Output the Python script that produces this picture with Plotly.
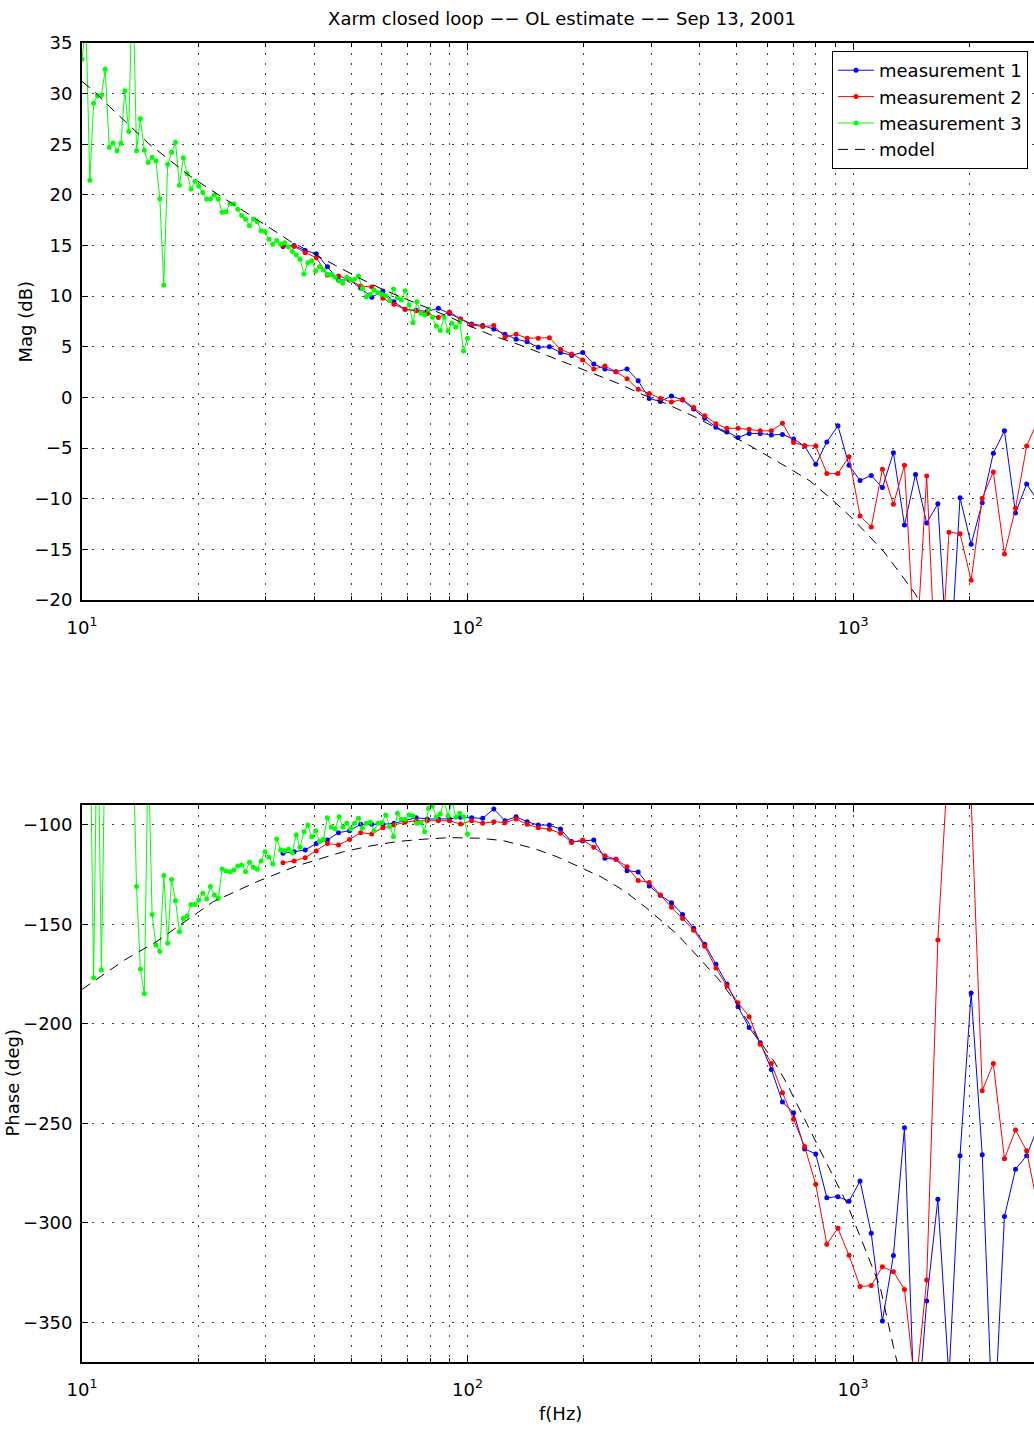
import plotly.graph_objects as go

# ---- measurements 1 & 2 (swept sine, shared frequency grid) ----
FREQ_12 = [33.22, 35.49, 37.93, 40.53, 43.31, 46.28, 49.44, 52.83, 56.45, 60.32,
           64.45, 68.87, 73.59, 78.63, 84.02, 89.78, 95.94, 102.5, 109.5, 117.0,
           125.1, 133.7, 142.8, 152.6, 163.1, 174.3, 186.2, 199.0, 212.6, 227.2,
           242.7, 259.4, 277.2, 296.1, 316.4, 338.1, 361.3, 386.0, 412.5, 440.8,
           471.0, 503.3, 537.8, 574.6, 614.0, 656.1, 701.0, 749.1, 800.4, 855.3,
           913.9, 976.5, 1043, 1115, 1192, 1273, 1360, 1453, 1553, 1660,
           1774, 1895, 2025, 2164, 2312, 2471, 2640, 2821, 3014]

MAG_1 = [14.9, 15.0, 14.5, 14.2, 12.9, 11.6, 11.6, 10.8, 9.9, 10.5,
         9.45, 8.7, 8.6, 8.5, 8.8, 8.3, 7.75, 7.25, 7.1, 6.75,
         6.25, 5.75, 5.5, 4.95, 5.0, 4.45, 4.15, 4.45, 3.3, 2.8,
         2.55, 2.8, 1.65, -0.1, -0.4, 0.15, -0.25, -1.15, -2.05, -2.95,
         -3.4, -3.95, -3.55, -3.55, -3.7, -3.65, -4.1, -4.8, -6.6, -4.4,
         -2.8, -6.7, -8.2, -7.7, -8.9, -5.45, -12.6, -7.6, -12.4, -10.5,
         -28.6, -9.9, -14.5, -10.4, -5.5, -3.3, -11.4, -8.55, -10.2]

MAG_2 = [15.0, 14.9, 14.3, 13.8, 12.1, 12.0, 11.6, 11.0, 10.9, 9.8,
         9.2, 8.7, 8.55, 8.3, 7.9, 8.45, 7.75, 7.15, 7.0, 7.1,
         5.95, 6.25, 5.85, 5.85, 5.9, 4.75, 4.3, 3.7, 2.8, 3.1,
         2.55, 1.85, 0.8, 0.4, -0.1, -0.45, -0.2, -1.0, -1.8, -2.6,
         -3.05, -3.05, -3.15, -3.3, -3.3, -2.55, -4.45, -4.75, -4.8, -7.5,
         -7.5, -5.85, -11.7, -12.8, -7.1, -10.55, -6.7, -26.5, -7.75, -32.0,
         -13.3, -13.45, -18.05, -9.95, -7.35, -15.45, -10.95, -4.8, -2.3]

PHASE_1 = [-114.3, -113.5, -112.6, -109.3, -107.6, -103.9, -102.9, -99.7, -99.7, -99.7,
           -99.2, -97.9, -96.4, -97.0, -97.0, -97.0, -96.2, -96.4, -96.7, -92.0,
           -97.9, -95.9, -98.4, -100.1, -100.1, -102.1, -108.4, -108.1, -107.6, -116.8,
           -117.3, -123.0, -123.7, -130.7, -135.4, -139.1, -145.0, -152.0, -160.0, -170.0,
           -180.0, -191.4, -201.9, -209.5, -222.9, -239.3, -244.7, -262.9, -265.4, -287.4,
           -286.9, -289.2, -279.0, -305.3, -349.4, -316.5, -252.2, -412.0, -339.3, -288.2,
           -378.0, -266.3, -184.5, -265.8, -412.0, -296.9, -273.1, -266.3, -252.0]

PHASE_2 = [-119.0, -118.1, -116.5, -113.1, -109.3, -110.1, -107.3, -103.9, -104.6, -101.4,
           -100.1, -98.7, -97.9, -97.9, -97.9, -97.9, -99.6, -97.9, -99.2, -98.4,
           -98.9, -97.0, -99.7, -101.4, -102.2, -104.2, -108.8, -107.6, -111.3, -115.5,
           -117.3, -121.0, -128.0, -128.9, -135.2, -141.4, -147.0, -153.0, -161.0, -172.0,
           -181.0, -189.4, -196.4, -210.3, -219.9, -234.6, -248.0, -261.7, -280.7, -310.8,
           -302.8, -316.4, -332.1, -331.6, -322.1, -324.6, -333.5, -384.0, -328.8, -157.9,
           -60.0, -45.0, -87.0, -233.6, -219.9, -267.8, -253.4, -263.8, -292.0]

# ---- measurement 3 (low-frequency sweep) ----
FREQ_3 = [10.00, 10.24, 10.48, 10.72, 10.97, 11.23, 11.49, 11.77, 12.04, 12.33,
          12.62, 12.91, 13.22, 13.53, 13.85, 14.17, 14.51, 14.85, 15.20, 15.55,
          15.92, 16.30, 16.68, 17.07, 17.48, 17.89, 18.31, 18.74, 19.18, 19.63,
          20.09, 20.57, 21.05, 21.54, 22.05, 22.57, 23.10, 23.65, 24.20, 24.77,
          25.35, 25.95, 26.56, 27.19, 27.83, 28.48, 29.15, 29.84, 30.54, 31.26,
          31.99, 32.75, 33.52, 34.30, 35.11, 35.94, 36.78, 37.65, 38.53, 39.44,
          40.37, 41.32, 42.29, 43.29, 44.31, 45.35, 46.42, 47.51, 48.63, 49.77,
          50.94, 52.14, 53.37, 54.62, 55.91, 57.22, 58.57, 59.95, 61.36, 62.80,
          64.28, 65.79, 67.34, 68.92, 70.55, 72.21, 73.91, 75.65, 77.43, 79.25,
          81.11, 83.02, 84.98, 86.98, 89.02, 91.12, 93.26, 95.45, 97.70, 100.00]

MAG_3 = [33.39, 37.0, 21.44, 29.04, 29.8, 29.85, 32.4, 24.67, 25.13, 24.37,
         25.1, 30.28, 26.25, 42.0, 24.37, 27.53, 24.4, 23.19, 23.71, 23.38,
         19.63, 11.1, 23.02, 24.2, 25.2, 20.96, 23.68, 22.1, 20.58, 21.34,
         20.85, 20.27, 19.6, 19.6, 19.99, 19.6, 18.28, 18.34, 19.13, 19.1,
         18.58, 17.96, 17.59, 16.96, 17.63, 17.36, 16.46, 16.38, 15.63, 15.12,
         15.5, 15.15, 15.28, 14.89, 14.4, 14.07, 13.64, 12.19, 13.31, 13.51,
         12.49, 12.91, 12.59, 12.16, 12.09, 11.86, 11.5, 11.27, 11.86, 11.6,
         11.66, 11.99, 10.77, 9.95, 10.18, 10.61, 10.35, 10.18, 10.05, 9.56,
         10.71, 9.85, 9.62, 10.54, 9.13, 7.38, 9.46, 8.31, 8.14, 8.7,
         7.91, 7.05, 6.6, 7.91, 6.56, 7.32, 6.92, 7.48, 4.59, 5.84]

PHASE_3 = [-60.0, -60.0, -40.0, -176.8, -30.0, -173.0, -50.0, -60.0, -60.0, -60.0,
           -60.0, -60.0, -60.0, -51.0, -131.0, -172.4, -184.7, -60.0, -145.0, -160.4,
           -163.7, -125.5, -159.5, -127.4, -138.1, -153.7, -147.0, -145.8, -140.0, -140.0,
           -137.8, -134.4, -137.2, -131.0, -135.2, -136.9, -122.2, -123.2, -123.5, -122.7,
           -120.7, -120.2, -123.5, -118.8, -121.3, -122.3, -118.1, -113.5, -116.3, -119.7,
           -107.1, -112.6, -113.1, -112.3, -114.0, -105.1, -111.3, -103.4, -100.1, -105.9,
           -102.9, -108.4, -107.3, -96.4, -101.2, -102.1, -95.9, -101.2, -99.2, -102.1,
           -99.2, -96.7, -101.7, -99.2, -98.7, -102.9, -99.2, -98.9, -95.0, -100.9,
           -105.9, -94.2, -97.2, -97.2, -95.0, -95.4, -99.2, -98.9, -103.4, -91.7,
           -90.5, -95.9, -94.5, -88.0, -95.5, -88.0, -96.2, -94.2, -95.9, -104.6]

# ---- open-loop model ----
MODEL_MAG_FREQ = [10.0, 10.7, 11.8, 14.86, 18.88, 21.27, 31.3, 34.6, 45.5, 52.3,
                  60.0, 69.3, 79.4, 91.0, 97.5, 115, 137.8, 158.6, 183, 210,
                  244, 286, 324, 384, 520, 686.5, 773, 877, 981, 1094,
                  1203, 1333, 1456, 1600]
MODEL_MAG = [31.2, 30.3, 28.7, 25.1, 21.97, 20.66, 16.54, 15.45, 13.03, 11.8,
             10.7, 9.73, 8.84, 7.85, 7.33, 6.17, 5.14, 4.2, 3.31, 2.42,
             1.44, 0.25, -0.54, -1.82, -4.4, -7.05, -8.24, -10.0, -11.7, -13.57,
             -15.25, -17.5, -19.5, -22.5]

MODEL_PHASE_FREQ = [10.0, 12.9, 15.6, 21.9, 28.4, 36.0, 42.2, 47.6, 55.9, 65.5,
                    76.7, 90.0, 107.6, 123.7, 148.5, 170.5, 196, 223, 257, 289.6,
                    350, 400, 450, 499, 574, 621, 673, 758, 855, 964,
                    1065, 1176, 1273, 1320]
MODEL_PHASE = [-182.7, -167.9, -158.7, -138.6, -128.6, -120.7, -116.6, -113.5, -110.6, -108.4,
               -107.2, -106.4, -106.7, -107.9, -111.8, -116.0, -121.3, -126.3, -133.6, -141.4,
               -155.0, -167.0, -178.0, -189.7, -209.0, -218.2, -229.9, -250.0, -270.1, -290.3,
               -311.2, -332.2, -362.3, -375.0]

MAG_TICKS = [-20, -15, -10, -5, 0, 5, 10, 15, 20, 25, 30, 35]
PHASE_TICKS = [-350, -300, -250, -200, -150, -100]
FREQ_TICKS = [10, 100, 1000]
FREQ_TICK_TEXT = ["10<sup>1</sup>", "10<sup>2</sup>", "10<sup>3</sup>"]

TITLE = "Xarm closed loop −− OL estimate −− Sep 13, 2001"

W, H = 1034, 1429
FONT = "DejaVu Sans, Verdana, sans-serif"
FS = 18

fig = go.Figure()

series = [
    ("measurement 1", FREQ_12, MAG_1, PHASE_1, "#0000ff"),
    ("measurement 2", FREQ_12, MAG_2, PHASE_2, "#ff0000"),
    ("measurement 3", FREQ_3, MAG_3, PHASE_3, "#00ff00"),
]
for name, f, mag, ph, col in series:
    fig.add_trace(go.Scatter(
        x=f, y=mag, name=name, mode="lines+markers",
        line=dict(color=col, width=1), marker=dict(color=col, size=5),
        xaxis="x", yaxis="y", legendrank=1))
    fig.add_trace(go.Scatter(
        x=f, y=ph, name=name, mode="lines+markers", showlegend=False,
        line=dict(color=col, width=1), marker=dict(color=col, size=5),
        xaxis="x2", yaxis="y2"))

fig.add_trace(go.Scatter(
    x=MODEL_MAG_FREQ, y=MODEL_MAG, name="model", mode="lines",
    line=dict(color="black", width=1, dash="10px,7px"),
    xaxis="x", yaxis="y", legendrank=2))
fig.add_trace(go.Scatter(
    x=MODEL_PHASE_FREQ, y=MODEL_PHASE, name="model", mode="lines", showlegend=False,
    line=dict(color="black", width=1, dash="10px,7px"),
    xaxis="x2", yaxis="y2"))

# plot area in pixels
L, R, T, B = 82, 0, 43, 67
plot_w = W - L - R
plot_h = H - T - B
top_lo = (1362 - 600) / plot_h
bot_hi = (1362 - 805) / plot_h
x_hi = 1 + plot_w / 385.5

grid_dash = "2px,8px"
grid_col = "#404040"
tick_font = dict(size=FS, color="black", family=FONT)


def px_x(px):
    return (px - L) / plot_w


def px_y(py):
    return (H - B - py) / plot_h


def xaxis_cfg(anchor):
    return dict(
        type="log", range=[1, x_hi], anchor=anchor,
        showline=True, linecolor="black", linewidth=1.8, mirror="allticks",
        ticks="inside", ticklen=7, tickwidth=1, tickcolor="black",
        tickvals=FREQ_TICKS, ticktext=FREQ_TICK_TEXT,
        tickfont=tick_font, ticklabelstandoff=10,
        showgrid=True, gridcolor=grid_col, gridwidth=1, griddash=grid_dash,
        minor=dict(dtick="D1", ticks="inside", ticklen=4, tickcolor="black",
                   showgrid=True, gridcolor=grid_col, gridwidth=1, griddash=grid_dash),
        zeroline=False,
    )


def yaxis_cfg(anchor, domain, rng, ticks):
    return dict(
        domain=domain, range=rng, anchor=anchor,
        showline=True, linecolor="black", linewidth=1.8, mirror=False,
        ticks="inside", ticklen=6, tickwidth=1, tickcolor="black",
        tickvals=ticks, tickfont=tick_font, ticklabelstandoff=4,
        showgrid=True, gridcolor=grid_col, gridwidth=1, griddash=grid_dash,
        zeroline=False,
    )


title_font = dict(size=FS, color="black", family=FONT)
axis_titles = [
    dict(text="Mag (dB)", x=px_x(25), y=px_y(321.5), textangle=-90),
    dict(text="Phase (deg)", x=px_x(12), y=px_y(1083.5), textangle=-90),
    dict(text="f(Hz)", x=px_x(560), y=px_y(1413), textangle=0),
]
annotations = [
    dict(text=a["text"], x=a["x"], y=a["y"], xref="paper", yref="paper",
         xanchor="center", yanchor="middle", textangle=a["textangle"],
         showarrow=False, font=title_font)
    for a in axis_titles
]

fig.update_layout(
    width=W, height=H,
    margin=dict(l=L, r=R, t=T, b=B, pad=0),
    paper_bgcolor="white", plot_bgcolor="white",
    font=dict(family=FONT, size=FS, color="black"),
    title=dict(text=TITLE, x=562 / W, xref="container", xanchor="center",
               y=1 - 19 / H, yref="container", yanchor="middle",
               font=title_font),
    xaxis=xaxis_cfg("y"),
    xaxis2=xaxis_cfg("y2"),
    yaxis=yaxis_cfg("x", [top_lo, 1], [-20, 35], MAG_TICKS),
    yaxis2=yaxis_cfg("x2", [0, bot_hi], [-370, -90], PHASE_TICKS),
    annotations=annotations,
    legend=dict(x=px_x(1028), xanchor="right",
                y=px_y(51), yanchor="top",
                bgcolor="white", bordercolor="black", borderwidth=1,
                font=dict(size=18, color="black", family=FONT),
                tracegroupgap=0, itemwidth=36,
                entrywidth=170, entrywidthmode="pixels"),
    showlegend=True,
)

fig.write_html("out.html")
